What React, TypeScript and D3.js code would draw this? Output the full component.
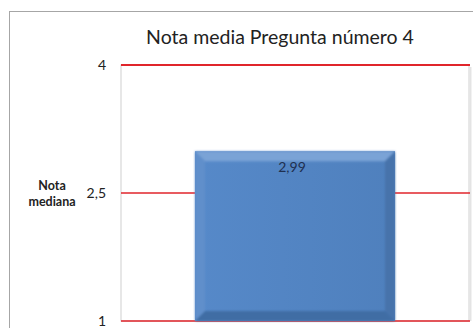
import React from "react";
import * as d3 from "d3";

const categories = ["Pregunta 4"];
const values = [2.99];
const valueLabels = ["2,99"];
const tickValues = [1, 2.5, 4];
const tickLabels = ["1", "2,5", "4"];
const titleText = "Nota media Pregunta número 4";
const axisTitle = ["Nota", "mediana"];

const W = 473;
const H = 328;
const plot = { left: 121, right: 469, top: 65, bottom: 321 };
const FONT = "Lato, 'Open Sans', sans-serif";

export default function App() {
  const y = d3.scaleLinear().domain([1, 4]).range([plot.bottom, plot.top]);
  const x = d3
    .scaleBand()
    .domain(categories)
    .range([plot.left, plot.right])
    .paddingInner(0)
    .paddingOuter(0.37);

  const bev = 10;

  return (
    <svg
      width={W}
      height={H}
      style={{ position: "absolute", left: 0, top: 0, background: "#fff" }}
    >
      <defs>
        <linearGradient id="barFace" x1="0" x2="1" y1="0" y2="0">
          <stop offset="0" stopColor="#5689c9" />
          <stop offset="1" stopColor="#4f80bd" />
        </linearGradient>
        <filter id="soft" x="-5%" y="-5%" width="110%" height="110%">
          <feGaussianBlur stdDeviation="0.8" />
        </filter>
      </defs>
      {/* chart frame */}
      <rect x={9.5} y={11.5} width={470} height={330} fill="#fff" stroke="#a6a6a6" strokeWidth={1} />
      {/* plot area */}
      <rect x={plot.left} y={plot.top} width={plot.right - plot.left} height={plot.bottom - plot.top} fill="#fff" stroke="#d0d0d0" strokeWidth={1} />
      <line x1={plot.right + 1.5} x2={plot.right + 1.5} y1={plot.top + 2} y2={plot.bottom} stroke="#e4e4e4" strokeWidth={2} />
      <text x={280} y={44} textAnchor="middle" fontFamily={FONT} fontSize={19.5} fill="#222">
        {titleText}
      </text>
      {/* gridlines */}
      {tickValues.map((t) => (
        <line
          key={t}
          x1={plot.left}
          x2={plot.right + 1}
          y1={y(t)}
          y2={y(t)}
          stroke="#e0252b"
          strokeWidth={t === 4 ? 2 : 1.6}
        />
      ))}
      {tickValues.map((t, i) => (
        <text key={t} x={106} y={y(t) + 5} textAnchor="end" fontFamily={FONT} fontSize={14} fill="#222">
          {tickLabels[i]}
        </text>
      ))}
      <text x={52} y={190} textAnchor="middle" fontFamily={FONT} fontWeight="bold" fontSize={12.5} fill="#222">
        <tspan x={52} dy={0}>{axisTitle[0]}</tspan>
        <tspan x={52} dy={16}>{axisTitle[1]}</tspan>
      </text>
      {/* bars with bevel */}
      {categories.map((c, i) => {
        const x0 = x(c)!;
        const x1 = x0 + x.bandwidth();
        const y0 = y(values[i]);
        const y1 = y(1);
        return (
          <g key={c}>
            <rect x={x0} y={y0} width={x1 - x0} height={y1 - y0} fill="url(#barFace)" />
            <g filter="url(#soft)">
              <polygon points={`${x0},${y0} ${x1},${y0} ${x1 - bev},${y0 + bev} ${x0 + bev},${y0 + bev}`} fill="#7aa3d6" />
              <polygon points={`${x0},${y0} ${x0 + bev},${y0 + bev} ${x0 + bev},${y1 - bev} ${x0},${y1}`} fill="#608fcb" />
              <polygon points={`${x1},${y0} ${x1 - bev},${y0 + bev} ${x1 - bev},${y1 - bev} ${x1},${y1}`} fill="#4673ab" />
              <polygon points={`${x0},${y1} ${x0 + bev},${y1 - bev} ${x1 - bev},${y1 - bev} ${x1},${y1}`} fill="#416da4" />
            </g>
            <text x={(x0 + x1) / 2 - 3} y={y0 + 21} textAnchor="middle" fontFamily={FONT} fontSize={14} fill="#1f3050">
              {valueLabels[i]}
            </text>
          </g>
        );
      })}
    </svg>
  );
}
